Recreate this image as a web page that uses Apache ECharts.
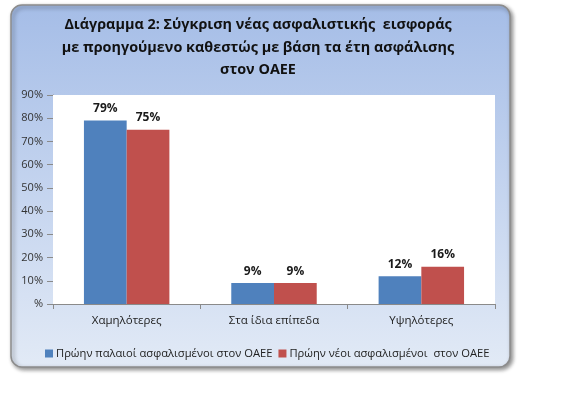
<!DOCTYPE html>
<html>
<head>
<meta charset="utf-8">
<script src="https://cdn.jsdelivr.net/npm/echarts@6/dist/echarts.min.js"></script>
<style>
html,body{margin:0;padding:0;background:#fff;}
#chart{width:577px;height:412px;}
</style>
</head>
<body>
<div id="chart"></div>
<script>
var titleLines = ['Διάγραμμα 2: Σύγκριση νέας ασφαλιστικής  εισφοράς', 'με προηγούμενο καθεστώς με βάση τα έτη ασφάλισης', 'στον ΟΑΕΕ'];
var categories = ['Χαμηλότερες', 'Στα ίδια επίπεδα', 'Υψηλότερες'];
var seriesNames = ['Πρώην παλαιοί ασφαλισμένοι στον ΟΑΕΕ', 'Πρώην νέοι ασφαλισμένοι  στον ΟΑΕΕ'];
var oldInsured = [79, 9, 12];
var newInsured = [75, 9, 16];
var yTicks = [0, 10, 20, 30, 40, 50, 60, 70, 80, 90];

var FONT = '"Open Sans", "Noto Sans", sans-serif';
var chart = echarts.init(document.getElementById('chart'), null, {renderer: 'canvas'});
var labelStyle = {
  show: true, position: 'top', distance: 6,
  formatter: '{c}%', fontFamily: FONT, fontWeight: 'bold', fontSize: 12, color: '#1a1a1a'
};
chart.setOption({
  animation: false,
  textStyle: {fontFamily: FONT},
  graphic: [
    {
      type: 'rect', z: -10, silent: true,
      shape: {x: 11, y: 5, width: 499, height: 362, r: 11},
      style: {
        fill: new echarts.graphic.LinearGradient(0, 0, 0, 1, [
          {offset: 0, color: '#a5bde7'},
          {offset: 1, color: '#e2eaf6'}
        ]),
        stroke: '#8c8c8c', lineWidth: 1.5,
        shadowBlur: 4, shadowOffsetX: 2, shadowOffsetY: 2, shadowColor: 'rgba(0,0,0,0.45)'
      }
    },
    {
      type: 'text', z: 5, silent: true,
      style: {
        x: 258, y: 14, text: titleLines.join('\n'),
        textAlign: 'center', textVerticalAlign: 'top',
        fontFamily: FONT, fontWeight: 'bold', fontSize: 14.4, lineHeight: 22.5, fill: '#111'
      }
    }
  ],
  grid: {
    left: 53, right: 82, top: 95, bottom: 108,
    show: true, backgroundColor: '#ffffff', borderWidth: 0, z: 1
  },
  legend: {
    left: 40, top: 343,
    itemWidth: 8, itemHeight: 8, itemGap: 6,
    icon: 'rect',
    textStyle: {fontFamily: FONT, fontSize: 11.2, color: '#222', padding: [0, 0, 0, -2]},
    data: seriesNames
  },
  xAxis: {
    type: 'category', data: categories,
    axisLine: {show: true, lineStyle: {color: '#8a8a8a'}},
    axisTick: {show: true, length: 5, lineStyle: {color: '#8a8a8a'}},
    axisLabel: {fontFamily: FONT, fontSize: 11.5, color: '#222', margin: 11}
  },
  yAxis: {
    type: 'value', min: yTicks[0], max: yTicks[yTicks.length - 1], interval: 10,
    axisLine: {show: true, lineStyle: {color: '#8a8a8a'}},
    axisTick: {show: true, length: 6, lineStyle: {color: '#8a8a8a'}},
    axisLabel: {
      fontFamily: FONT, fontSize: 11, color: '#333', margin: 10,
      formatter: function (v) { return v === 0 ? '%' : v + '%'; }
    },
    splitLine: {show: true, lineStyle: {color: '#8c8c8c', width: 1}}
  },
  series: [
    {
      name: seriesNames[0], type: 'bar', data: oldInsured,
      barGap: '0%', barCategoryGap: '42%',
      itemStyle: {color: '#4f81bd'}, label: labelStyle
    },
    {
      name: seriesNames[1], type: 'bar', data: newInsured,
      barGap: '0%', barCategoryGap: '42%',
      itemStyle: {color: '#c0504d'}, label: labelStyle
    }
  ]
});
</script>
</body>
</html>
